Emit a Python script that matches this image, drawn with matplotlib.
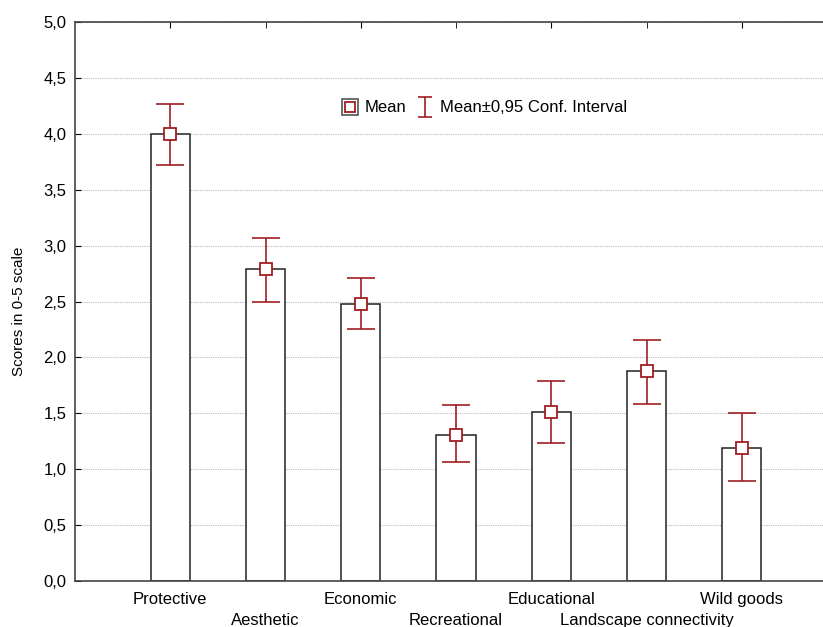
import numpy as np
import matplotlib
matplotlib.use('Agg')
import matplotlib.pyplot as plt
from matplotlib.lines import Line2D
from matplotlib.path import Path
from matplotlib.ticker import FuncFormatter, FixedLocator

plt.rcParams['font.family'] = ['Liberation Sans', 'DejaVu Sans']

#categories and values
categories = ['Protective', 'Aesthetic', 'Economic', 'Recreational',
              'Educational', 'Landscape connectivity', 'Wild goods']
means = [4.00, 2.79, 2.48, 1.31, 1.51, 1.88, 1.19]
ci_low = [3.72, 2.50, 2.25, 1.06, 1.23, 1.58, 0.89]
ci_high = [4.27, 3.07, 2.71, 1.57, 1.79, 2.16, 1.50]

red = '#a01e22'
fs = 12
x = np.arange(1, len(categories) + 1)

fig = plt.figure(figsize=(8.23, 6.27), dpi=100)
# plot area runs past the right edge (cropped like the original)
ax = fig.add_axes([75/823, 1 - 581/627, 762/823, 559/627])

ax.bar(x, means, width=0.41, color='white', edgecolor='#222222', linewidth=1.1, zorder=2)
err = [np.array(means) - np.array(ci_low), np.array(ci_high) - np.array(means)]
ax.errorbar(x, means, yerr=err, fmt='none', ecolor=red, elinewidth=1.2,
            capsize=10, capthick=1.2, zorder=3)
ax.plot(x, means, 's', ms=8, mfc='white', mec=red, mew=1.3, zorder=4, ls='none')

ax.set_xlim(0, 8)
ax.set_ylim(0, 5)
ax.yaxis.set_major_locator(FixedLocator(np.arange(0, 5.01, 0.5)))
ax.yaxis.set_major_formatter(FuncFormatter(lambda v, p: f'{v:.1f}'.replace('.', ',')))
ax.grid(axis='y', color='#bbbbbb', linestyle=(0, (1, 1)), linewidth=0.8, zorder=0)

# alternate labels on two rows
ax.xaxis.set_major_locator(FixedLocator(x[::2]))
ax.xaxis.set_minor_locator(FixedLocator(x[1::2]))
ax.set_xticklabels(categories[::2])
ax.set_xticklabels(categories[1::2], minor=True)
ax.tick_params(axis='x', which='major', direction='in', length=4, pad=8, labelsize=fs, top=True)
ax.tick_params(axis='x', which='minor', direction='in', length=4, pad=23, labelsize=fs, top=True)
ax.tick_params(axis='y', direction='in', length=4, pad=6, labelsize=fs)

for s in ax.spines.values():
    s.set_color('#444444')
    s.set_linewidth(1.2)
ax.spines['right'].set_visible(False)

fig.text(19/823, 1 - 311/627, 'Scores in 0-5 scale', rotation=90, ha='center', va='center', fontsize=11)

# legend symbols
ibar = Path([(-0.7, 1), (0.7, 1), (0, 1), (0, -1), (-0.7, -1), (0.7, -1)],
            [Path.MOVETO, Path.LINETO, Path.MOVETO, Path.LINETO, Path.MOVETO, Path.LINETO])
mean_handle = (Line2D([], [], marker='s', ls='none', ms=11, mfc='white', mec='#555555', mew=1.2),
               Line2D([], [], marker='s', ls='none', ms=7, mfc='white', mec=red, mew=1.3))
ci_handle = Line2D([], [], marker=ibar, ls='none', ms=15, mfc='none', mec=red, mew=1.2)
fig.legend([mean_handle, ci_handle], ['Mean', 'Mean\u00b10,95 Conf. Interval'], loc='center',
           bbox_to_anchor=(484/823, 1 - 108/627), ncol=2, frameon=False, fontsize=fs,
           handlelength=1, handletextpad=0.4, columnspacing=0.6)

fig.savefig('out.png', dpi=100)
